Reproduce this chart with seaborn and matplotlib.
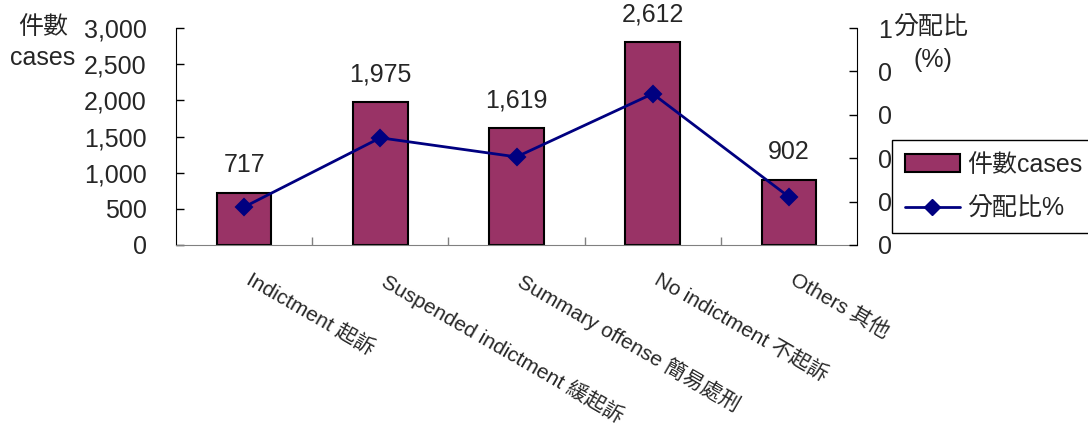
import numpy as np
import pandas as pd
import matplotlib
matplotlib.use("Agg")
import matplotlib.pyplot as plt
from matplotlib.patches import Patch
from matplotlib.lines import Line2D
import seaborn as sns

# data
categories = ["Indictment 起訴", "Suspended indictment 緩起訴", "Summary offense 簡易處刑",
              "No indictment 不起訴", "Others 其他"]
cases = [717, 1975, 1619, 2800, 902]          # bar heights as drawn
case_labels = ["717", "1,975", "1,619", "2,612", "902"]
ratio = [0.175, 0.494, 0.406, 0.697, 0.222]   # right axis
left_ticks = [0, 500, 1000, 1500, 2000, 2500, 3000]
right_ticks = [0, 0.2, 0.4, 0.6, 0.8, 1.0]

bar_color = "#993366"
line_color = "#000080"

sns.set_style("white")
plt.rcParams['font.family'] = ['Liberation Sans', 'Noto Sans CJK TC']

df = pd.DataFrame({"category": categories, "cases": cases, "ratio": ratio})

W, H = 1088, 430
fig = plt.figure(figsize=(W / 100, H / 100), dpi=100)
ax = fig.add_axes([176 / W, 1 - 245 / H, (857 - 176) / W, (245 - 28) / H])

sns.barplot(data=df, x="category", y="cases", ax=ax, color=bar_color, saturation=1,
            width=0.4, edgecolor="black", linewidth=1.5)

ax2 = ax.twinx()
sns.pointplot(data=df, x="category", y="ratio", ax=ax2, color=line_color, markers="D",
              markersize=8, linewidth=2, errorbar=None)

# left axis
ax.set_ylim(0, 3000)
ax.set_yticks(left_ticks)
ax.set_yticklabels([f"{v:,}" for v in left_ticks])
ax.tick_params(axis='y', left=True, direction='in', length=6, width=1, color='black',
               labelsize=18, pad=21)
ax.set_xlabel("")
ax.set_ylabel("")

# right axis (labels truncated to whole numbers like the original)
ax2.set_ylim(0, 1)
ax2.set_yticks(right_ticks)
ax2.set_yticklabels([f"{int(v)}" for v in right_ticks])
ax2.tick_params(axis='y', right=True, direction='in', length=6, width=1, color='black',
                labelsize=18, pad=15)
ax2.set_xlabel("")
ax2.set_ylabel("")

# x axis: separators between categories, labels drawn rotated
ax.set_xlim(-0.5, len(categories) - 0.5)
ax.set_xticks(range(len(categories)))
ax.set_xticklabels([])
ax.tick_params(axis='x', which='major', bottom=True, length=0)
ax.set_xticks(np.arange(0.5, len(categories) - 1, 1), minor=True)
ax.tick_params(axis='x', which='minor', bottom=True, direction='in', length=6, width=1,
               color='#808080')
for i, cat in enumerate(categories):
    ax.annotate(cat, xy=(i, 0), xycoords=ax.get_xaxis_transform(),
                xytext=(6, -18), textcoords='offset points', rotation=-30,
                ha='left', va='top', rotation_mode='anchor', fontsize=15)

for s in ["top", "right"]:
    ax.spines[s].set_visible(False)
ax.spines["left"].set_color("black")
ax.spines["bottom"].set_color("#808080")
for s in ["top", "left", "bottom"]:
    ax2.spines[s].set_visible(False)
ax2.spines["right"].set_color("black")

# value labels
for i, (h, t) in enumerate(zip(cases, case_labels)):
    ax.annotate(t, (i, h), xytext=(0, 20), textcoords='offset points',
                ha='center', va='center', fontsize=18)

# axis titles
fig.text(43 / W, 1 - 27 / H, "件數", ha='center', va='center', fontsize=18)
fig.text(43 / W, 1 - 58 / H, "cases", ha='center', va='center', fontsize=18)
fig.text(931 / W, 1 - 28 / H, "分配比", ha='center', va='center', fontsize=18)
fig.text(933 / W, 1 - 60 / H, "(%)", ha='center', va='center', fontsize=18)

# legend
handles = [Patch(facecolor=bar_color, edgecolor='black', linewidth=1.5),
           Line2D([], [], color=line_color, marker='D', markersize=8, linewidth=2)]
leg = fig.legend(handles, ["件數cases", "分配比%"], loc='upper left',
                 bbox_to_anchor=(892 / W, 1 - 140 / H), borderaxespad=0,
                 frameon=True, fancybox=False, edgecolor='black', framealpha=1,
                 fontsize=18, handlelength=2.2, handletextpad=0.3, borderpad=0.5,
                 labelspacing=0.8)
leg.get_frame().set_linewidth(1)

fig.savefig("out.png", dpi=100)
